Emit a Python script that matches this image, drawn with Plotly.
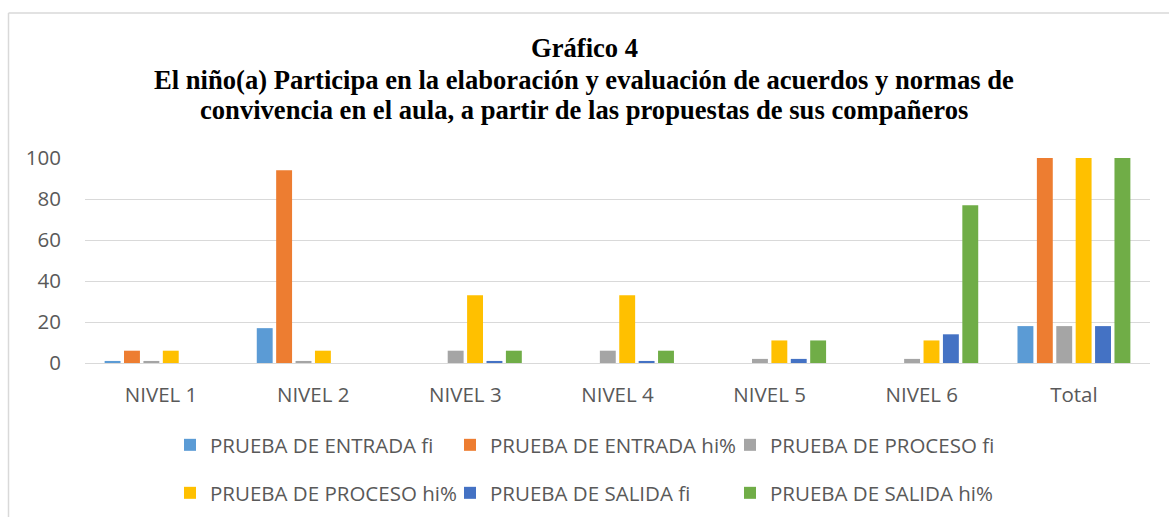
import plotly.graph_objects as go

# Categories and series
categorias = ["NIVEL 1", "NIVEL 2", "NIVEL 3", "NIVEL 4", "NIVEL 5", "NIVEL 6", "Total"]

entrada_fi = [1, 17, 0, 0, 0, 0, 18]
entrada_hi = [6, 94, 0, 0, 0, 0, 100]
proceso_fi = [1, 1, 6, 6, 2, 2, 18]
proceso_hi = [6, 6, 33, 33, 11, 11, 100]
salida_fi = [0, 0, 1, 1, 2, 14, 18]
salida_hi = [0, 0, 6, 6, 11, 77, 100]

series_nombres = [
    "PRUEBA DE ENTRADA fi",
    "PRUEBA DE ENTRADA hi%",
    "PRUEBA DE PROCESO fi",
    "PRUEBA DE PROCESO hi%",
    "PRUEBA DE SALIDA fi",
    "PRUEBA DE SALIDA hi%",
]
series_valores = [entrada_fi, entrada_hi, proceso_fi, proceso_hi, salida_fi, salida_hi]
series_colores = ["#5B9BD5", "#ED7D31", "#A5A5A5", "#FFC000", "#4472C4", "#70AD47"]

titulo_lineas = [
    "Gráfico 4",
    "El niño(a) Participa en la elaboración y evaluación de acuerdos y normas de",
    "convivencia en el aula, a partir de las propuestas de sus compañeros",
]

W, H = 1169, 517
ML, MR, MT, MB = 85, 19, 158, 154
PW, PH = W - ML - MR, H - MT - MB


def px_x(x):
    return (x - ML) / PW


def px_y(y):
    return (H - MB - y) / PH


TEXT_FONT = "'Open Sans', Lato, sans-serif"
TITLE_FONT = "'Liberation Serif', 'Times New Roman', serif"
GRIS_TEXTO = "#595959"
GRID = "#D9D9D9"
TEXT_SIZE = 20.5

fig = go.Figure()
for i, (nombre, vals, color) in enumerate(zip(series_nombres, series_valores, series_colores)):
    fig.add_trace(go.Bar(
        x=categorias,
        y=vals,
        name=nombre,
        marker=dict(color=color, line=dict(width=0)),
        legend="legend" if i < 3 else "legend2",
    ))

leyenda_base = dict(
    orientation="h",
    font=dict(family=TEXT_FONT, size=TEXT_SIZE, color=GRIS_TEXTO),
    entrywidth=235,
    entrywidthmode="pixels",
    itemwidth=30,
    xref="container",
    yref="container",
    xanchor="left",
    yanchor="middle",
    bgcolor="rgba(0,0,0,0)",
    traceorder="normal",
)

fig.update_layout(
    width=W,
    height=H,
    margin=dict(l=ML, r=MR, t=MT, b=MB),
    paper_bgcolor="white",
    plot_bgcolor="white",
    barmode="group",
    bargap=0.235,
    bargroupgap=0.18,
    xaxis=dict(
        showgrid=False,
        showline=True,
        linecolor=GRID,
        linewidth=1,
        ticks="",
        tickfont=dict(family=TEXT_FONT, size=TEXT_SIZE, color=GRIS_TEXTO),
        ticklabelstandoff=13,
    ),
    yaxis=dict(
        range=[0, 100],
        tickvals=[0, 20, 40, 60, 80, 100],
        showgrid=True,
        gridcolor=GRID,
        gridwidth=1,
        zeroline=False,
        showline=False,
        ticks="",
        tickfont=dict(family=TEXT_FONT, size=TEXT_SIZE, color=GRIS_TEXTO),
        ticklabelstandoff=23,
    ),
    legend=dict(leyenda_base, x=170 / W, y=1 - 445 / H),
    legend2=dict(leyenda_base, x=170 / W, y=1 - 493 / H),
    showlegend=True,
)

# Title, one annotation per line
for texto, yc in zip(titulo_lineas, [48, 80, 110]):
    fig.add_annotation(
        text=f"<b>{texto}</b>",
        xref="paper", yref="paper",
        x=px_x(584), y=px_y(yc),
        xanchor="center", yanchor="middle",
        showarrow=False,
        font=dict(family=TITLE_FONT, size=26.6, color="#000000"),
    )

# Chart frame (left and top edges)
fig.add_shape(type="line", xref="paper", yref="paper",
              x0=px_x(8.5), x1=px_x(8.5), y0=px_y(13), y1=px_y(H + 2),
              line=dict(color="#D9D9D9", width=1.5))
fig.add_shape(type="line", xref="paper", yref="paper",
              x0=px_x(8.5), x1=px_x(W + 2), y0=px_y(13), y1=px_y(13),
              line=dict(color="#D9D9D9", width=1.5))

fig.write_html("out.html")
